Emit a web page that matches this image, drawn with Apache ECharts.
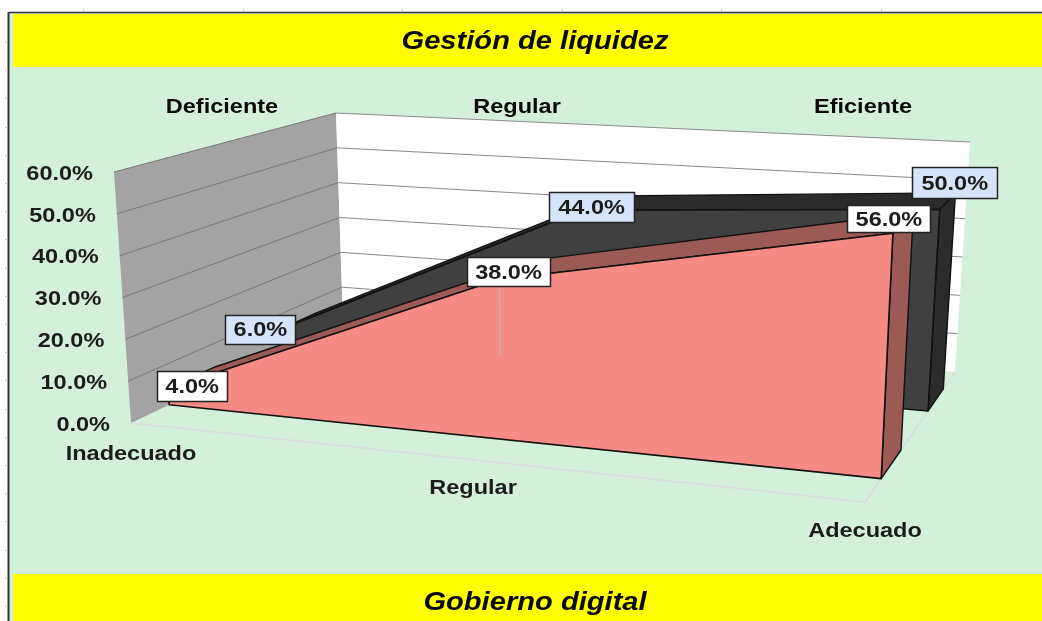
<!DOCTYPE html>
<html><head><meta charset="utf-8">
<style>html,body{margin:0;padding:0;background:#fff}#c{width:1042px;height:621px;filter:blur(0.45px)}</style>
<script src="https://cdn.jsdelivr.net/npm/echarts@6/dist/echarts.min.js"></script>
</head><body><div id="c"></div>
<script>
const categories = ['Inadecuado', 'Regular', 'Adecuado'];
const deficienteValues = [4, 38, 56];
const segundaValues = [6, 44, 50];
const yTicks = [0, 10, 20, 30, 40, 50, 60];
const topLabels = ['Deficiente', 'Regular', 'Eficiente'];
const chartTitle = 'Gestión de liquidez';
const nextTitle = 'Gobierno digital';

// Style / layout only
const FONT = 'bold 21px "Liberation Sans", Arial, sans-serif';
const TITLE_FONT = 'italic bold 26px "Liberation Sans", Arial, sans-serif';
const STRETCH = 1.12;
const TEXT_DY = 2;
const topLabelX = [222, 517, 863];
const categoryLabelDy = [29, 26, 27];
const corners = { // u (left/right), v (bottom/top), w (front/back) box of the 3D plot
  flb:[131,423], flt:[114,172], frb:[865,502], frt:[877,232],
  blb:[343,322], blt:[336,113], brb:[955,372], brt:[970,142]
};
const ribbons = [
  {values: segundaValues, w0:.70, w1:.87, face:'#404040', band:'#2b2b2b', box:'#D6E4FB',
   off:[[-18,-1],[9,-3],[15,-27]], size:[[70,29],[85,30],[85,31]]},
  {values: deficienteValues, w0:.18, w1:.40, face:'#F58B84', band:'#9C5A55', box:'#FFFFFF',
   off:[[24,-3],[9,-8],[-4,-15]], size:[[70,30],[83,29],[83,27]]}
];
const K = 1.146; // horizontal perspective foreshortening

function lerp(a,b,t){return a+(b-a)*t;}
function mix(a,b,t){return [lerp(a[0],b[0],t),lerp(a[1],b[1],t)];}
function project(u,v,w){
  const c=corners, pu=u/(u+K*(1-u));
  const fb=mix(c.flb,c.frb,pu), ft=mix(c.flt,c.frt,pu);
  const bb=mix(c.blb,c.brb,pu), bt=mix(c.blt,c.brt,pu);
  return mix(mix(fb,ft,v),mix(bb,bt,v),w);
}
// through the (hidden) cartesian axes: category index + value -> 3D point -> screen
function P(api,params,cat,val,w){
  const r=params.coordSys, p=api.coord([cat,val]);
  return project((p[0]-r.x)/r.width,(r.y+r.height-p[1])/r.height,w);
}
const poly=(points,fill,stroke,lw)=>({type:'polygon',shape:{points},style:{fill,stroke:stroke||null,lineWidth:lw||1,lineJoin:'round'}});
const line=(a,b,stroke,lw)=>({type:'line',shape:{x1:a[0],y1:a[1],x2:b[0],y2:b[1]},style:{stroke,lineWidth:lw||1}});
const label=(text,x,y,align,font)=>({type:'text',x,y:y+TEXT_DY,scaleX:STRETCH,style:{text,font:font||FONT,fill:'#1c1c1c',align:align||'center',verticalAlign:'middle'}});

function renderWalls(params,api){
  const n=categories.length-1,lo=yTicks[0],hi=yTicks[yTicks.length-1];
  const q=(c,v,w)=>P(api,params,c,v,w);
  const kids=[
    poly([q(0,lo,0),q(0,hi,0),q(0,hi,1),q(0,lo,1)],'#A3A3A3'),
    poly([q(0,lo,1),q(0,hi,1),q(n,hi,1),q(n,lo,1)],'#FFFFFF')
  ];
  yTicks.slice(1).forEach(t=>{
    kids.push(line(q(0,t,0),q(0,t,1),'#787878'));
    kids.push(line(q(0,t,1),q(n,t,1),'#8a8a8a'));
  });
  // floor edges and ticks
  kids.push(line(q(0,lo,0),q(n,lo,0),'#DADADF',1.5));
  kids.push(line(q(n,lo,0),q(n,lo,1),'#DADADF',1.5));
  categories.forEach((_,i)=>{
    const a=q(i,lo,0);
    kids.push(line(a,[a[0],a[1]+4],'#DADADF'));
  });
  // axis texts
  yTicks.forEach(t=>{
    const a=q(0,t,0);
    kids.push(label(t.toFixed(1)+'%',a[0]-21,a[1],'right'));
  });
  categories.forEach((name,i)=>{
    const a=q(i,lo,0);
    kids.push(label(name,a[0],a[1]+categoryLabelDy[i]));
  });
  return {type:'group',children:kids};
}
function renderRibbon(rb){
  return function(params,api){
    const vals=rb.values,n=vals.length-1,q=(c,v,w)=>P(api,params,c,v,w);
    const front=vals.map((v,i)=>q(i,v,rb.w0)), back=vals.map((v,i)=>q(i,v,rb.w1));
    const kids=[];
    // right end cap
    kids.push(poly([q(n,0,rb.w0),front[n],back[n],q(n,0,rb.w1)],rb.band,'#111',1.4));
    // top band
    for(let i=0;i<n;i++) kids.push(poly([front[i],front[i+1],back[i+1],back[i]],rb.band,'#111',1.4));
    // front face
    kids.push(poly([q(0,0,rb.w0)].concat(front,[q(n,0,rb.w0)]),rb.face,'#111',1.6));
    return {type:'group',children:kids};
  };
}
function renderLeader(params,api){
  return line(P(api,params,1,deficienteValues[1],.18),P(api,params,1,20,.18),'#BDBDBD',1);
}
function renderBoxes(rb){
  return function(params,api){
    const i=params.dataIndex,v=api.value(1),a=P(api,params,api.value(0),v,rb.w0);
    const o=rb.off[i],s=rb.size[i],cx=a[0]+o[0],cy=a[1]+o[1];
    return {type:'group',children:[
      {type:'rect',shape:{x:Math.round(cx-s[0]/2)+.5,y:Math.round(cy-s[1]/2)+.5,width:s[0],height:s[1]},
       style:{fill:rb.box,stroke:'#222',lineWidth:1.5}},
      label(v.toFixed(1)+'%',cx,cy-.5)
    ]};
  };
}
const custom=(z,data,renderItem)=>({type:'custom',coordinateSystem:'cartesian2d',z,silent:true,clip:false,animation:false,
  encode:{x:0,y:1},data,renderItem});
const pairs=a=>a.map((v,i)=>[i,v]);

// page furniture
const furniture=[
  {type:'rect',shape:{x:0,y:0,width:1042,height:621},style:{fill:'#fff'},z:0},
  {type:'rect',shape:{x:9,y:13,width:1033,height:608},style:{fill:'#D3F0DB'},z:1},
  {type:'rect',shape:{x:13,y:14,width:1029,height:53},style:{fill:'#FFFF00'},z:2},
  {type:'rect',shape:{x:13,y:574,width:1029,height:47},style:{fill:'#FFFF00'},z:2},
  {type:'line',shape:{x1:8.5,y1:12.5,x2:1042,y2:12.5},style:{stroke:'#333',lineWidth:1.5},z:3},
  {type:'line',shape:{x1:8.5,y1:12,x2:8.5,y2:621},style:{stroke:'#333',lineWidth:2},z:3}
];
[83,243,402,562,721,881].forEach(x=>furniture.push({type:'line',shape:{x1:x+.5,y1:9,x2:x+.5,y2:12},style:{stroke:'#c8c8c8'},z:3}));
for(let y=42;y<621;y+=28.2) furniture.push({type:'line',shape:{x1:5,y1:Math.round(y)+.5,x2:7.5,y2:Math.round(y)+.5},style:{stroke:'#c8c8c8'},z:3});
const textEl=(text,x,y,font)=>({type:'text',x,y,scaleX:STRETCH,z:4,style:{text,font,fill:'#0a0a0a',align:'center',verticalAlign:'middle'}});
furniture.push(textEl(chartTitle,535,42,TITLE_FONT));
furniture.push(textEl(nextTitle,535,603,TITLE_FONT));
topLabels.forEach((t,i)=>furniture.push(textEl(t,topLabelX[i],107,FONT)));

const chart=echarts.init(document.getElementById('c'),null,{width:1042,height:621});
const series=[custom(1,[[0,0]],renderWalls)];
ribbons.forEach((rb,i)=>series.push(custom(2+i,[[0,0]],renderRibbon(rb))));
series.push(custom(5,[[0,0]],renderLeader));
ribbons.forEach((rb,i)=>series.push(custom(6+i,pairs(rb.values),renderBoxes(rb))));
chart.setOption({
  animation:false,
  backgroundColor:'#fff',
  grid:{left:131,top:172,width:734,height:251,show:false},
  xAxis:{type:'category',data:categories,boundaryGap:false,show:false},
  yAxis:{type:'value',min:0,max:60,interval:10,show:false},
  graphic:{elements:furniture},
  series
});
</script></body></html>
